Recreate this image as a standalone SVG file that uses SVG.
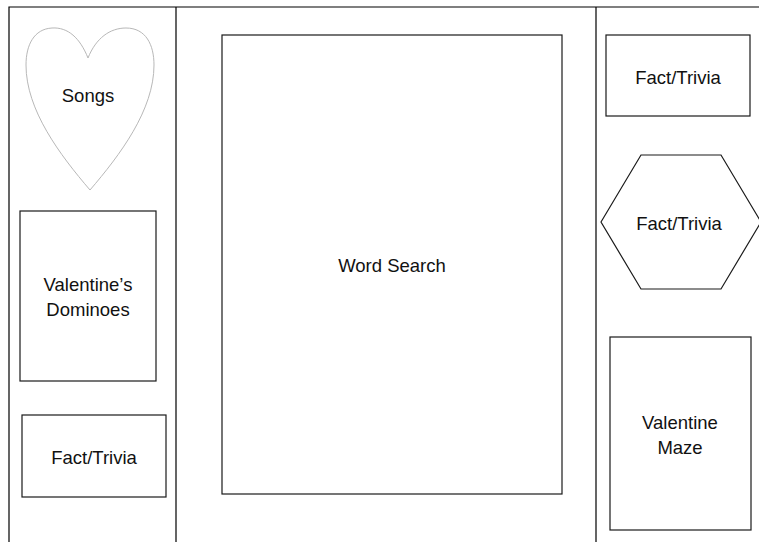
<svg xmlns="http://www.w3.org/2000/svg" width="759" height="542" viewBox="0 0 759 542">
<style>
.box{fill:#fff;stroke:#1a1a1a;stroke-width:1.2}
.heart{fill:#fff;stroke:#b8b8b8;stroke-width:1}
.frame{stroke:#000;stroke-width:1.2;fill:none}
text{font-family:"Liberation Sans",Arial,sans-serif;font-size:18.5px;fill:#111;text-anchor:middle}
</style>
<rect width="759" height="542" fill="#fff"/>
<g id="frame">
<path class="frame" d="M9 542V7H759M176 7V542M596 7V542"/>
</g>
<g id="songs">
<path class="heart" d="M88 58C80 38 68 27 52 28C34 29 26 45 26 65C26 110 60 155 90 190C120 155 154 110 154 65C154 45 146 28 126 28C110 28 96 38 88 58Z"/>
<text x="88" y="102">Songs</text>
</g>
<g id="dominoes">
<rect class="box" x="20" y="211" width="136" height="170"/>
<text x="88" y="291">Valentine’s</text>
<text x="88" y="316">Dominoes</text>
</g>
<g id="fact-left">
<rect class="box" x="22" y="415" width="144" height="82"/>
<text x="94" y="464">Fact/Trivia</text>
</g>
<g id="word-search">
<rect class="box" x="222" y="35" width="340" height="459"/>
<text x="392" y="272">Word Search</text>
</g>
<g id="fact-top-right">
<rect class="box" x="606" y="35" width="144" height="81"/>
<text x="678" y="84">Fact/Trivia</text>
</g>
<g id="fact-hexagon">
<polygon class="box" points="601,222 641,155 721,155 761,222 721,289 641,289"/>
<text x="679" y="230">Fact/Trivia</text>
</g>
<g id="maze">
<rect class="box" x="610" y="337" width="141" height="193"/>
<text x="680" y="429">Valentine</text>
<text x="680" y="454">Maze</text>
</g>
<g id="connectors"></g>
</svg>
